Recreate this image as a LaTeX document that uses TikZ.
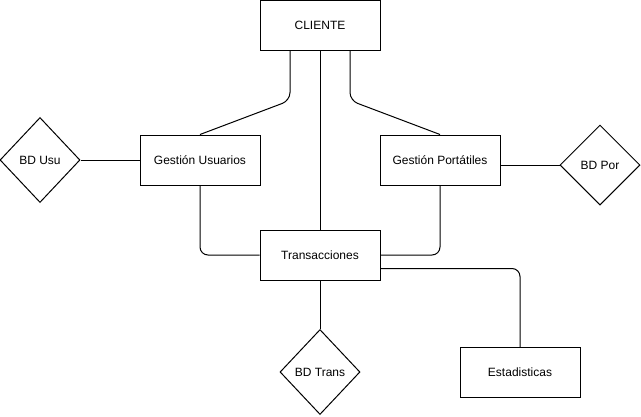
\documentclass[tikz,border=0pt]{standalone}
\usepackage{fontspec}
\setmainfont{Liberation Sans}
\usetikzlibrary{arrows, shapes, positioning}

\begin{document}
\begin{tikzpicture}[x=1pt,y=1pt,on grid,auto,line width=1pt,
	caja node/.style={rectangle,draw,font=\fontsize{12}{14}\selectfont,minimum width=120pt,minimum height=50pt,inner sep=0pt},
	rombo node/.style={diamond,draw,font=\fontsize{12}{14}\selectfont,minimum width=80pt,minimum height=85pt,inner sep=0pt}]
				\useasboundingbox (0,0) rectangle (641,-416);
				% Definición de los nodos
				\node[caja node] (1) at (320,-25) {CLIENTE};
				\node[caja node] (2) [below left=135pt and 120pt of 1] {Gestión Usuarios};
				\node[caja node] (3) [below right=135pt and 120pt of 1] {Gestión Portátiles};
				\node[caja node] (4) [below=230pt of 1] {Transacciones};
				\node[rombo node] (5) [left=160pt of 2] {BD Usu};
				\node[rombo node,minimum height=80pt] (6) [below right=5pt and 160pt of 3] {BD Por};
				\node[rombo node] (7) [below=117pt of 4] {BD Trans};
				\node[caja node] (8) [below right=117.5pt and 200pt of 4] {Estadisticas};
				
				% Conexiones desde el cliente
				\draw[rounded corners=8pt] ([xshift=-30pt]1.south) -- ++(0,-50) -- (2.north);
				\draw[rounded corners=8pt] ([xshift=30pt]1.south) -- ++(0,-50) -- (3.north);
				\path (1) edge (4);
				
				% Conexiones hacia transacciones
				\draw[rounded corners=8pt] (2.south) |- (4.west);
				\draw[rounded corners=8pt] (3.south) |- (4.east);
				\draw[rounded corners=8pt] ([yshift=-13.5pt]4.east) -| (8.north);
				
				% Conexiones con las bases de datos
				\path
				(2) edge (5)
				(4) edge (7);
				\draw (3.east |- 6.west) -- (6.west);
			\end{tikzpicture}
\end{document}
